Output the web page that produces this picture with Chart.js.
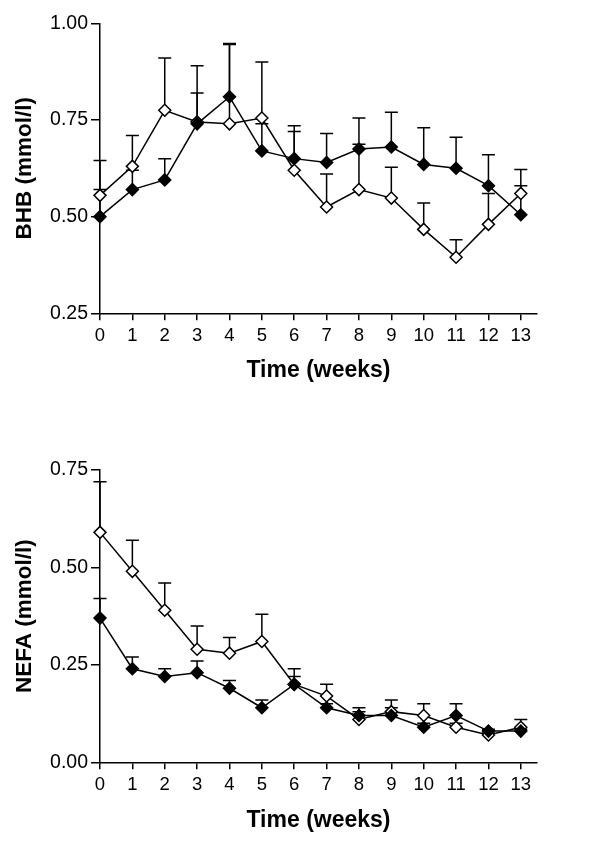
<!DOCTYPE html>
<html>
<head>
<meta charset="utf-8">
<script src="https://cdn.jsdelivr.net/npm/chart.js@4.4.1/dist/chart.umd.min.js"></script>
<style>
  html, body { margin: 0; padding: 0; background: #fff; }
  body { width: 600px; height: 842px; position: relative; overflow: hidden; }
  canvas { position: absolute; left: 0; }
  #c1 { top: 0; }
  #c2 { top: 420px; }
</style>
</head>
<body>
<canvas id="c1" width="600" height="400"></canvas>
<canvas id="c2" width="600" height="422"></canvas>
<script>
// ---- data ----
const weeks = [0, 1, 2, 3, 4, 5, 6, 7, 8, 9, 10, 11, 12, 13];

const bhbTicks = [0.25, 0.50, 0.75, 1.00];
const bhbFilled    = [0.50, 0.57, 0.595, 0.74, 0.81, 0.67, 0.65, 0.64, 0.675, 0.68, 0.635, 0.625, 0.58, 0.505];
const bhbFilledTop = [0.645, 0.62, 0.65, 0.82, 0.945, 0.74, 0.735, 0.715, 0.755, 0.77, 0.73, 0.705, 0.66, 0.58];
const bhbOpen      = [0.555, 0.63, 0.775, 0.745, 0.74, 0.755, 0.62, 0.525, 0.57, 0.548, 0.467, 0.395, 0.48, 0.56];
const bhbOpenTop   = [0.57, 0.71, 0.91, 0.89, 0.948, 0.90, 0.72, 0.61, 0.687, 0.628, 0.535, 0.44, 0.56, 0.622];

const nefaTicks = [0.00, 0.25, 0.50, 0.75];
const nefaFilled    = [0.37, 0.24, 0.22, 0.23, 0.19, 0.14, 0.20, 0.14, 0.12, 0.12, 0.09, 0.12, 0.08, 0.08];
const nefaFilledTop = [0.42, 0.27, 0.24, 0.26, 0.21, 0.16, 0.24, 0.15, 0.14, 0.14, 0.10, 0.15, 0.085, 0.085];
const nefaOpen      = [0.59, 0.49, 0.39, 0.29, 0.28, 0.31, 0.20, 0.17, 0.11, 0.13, 0.12, 0.09, 0.07, 0.09];
const nefaOpenTop   = [0.72, 0.57, 0.46, 0.35, 0.32, 0.38, 0.22, 0.20, 0.13, 0.16, 0.15, 0.10, 0.075, 0.11];

const FONT = "'Liberation Sans', Arial, Helvetica, sans-serif";

// Upper error bars drawn through the chart scales
const errorBarPlugin = {
  id: 'errorBars',
  beforeDatasetsDraw(chart) {
    const ctx = chart.ctx;
    const xs = chart.scales.x, ys = chart.scales.y;
    ctx.save();
    ctx.strokeStyle = '#000';
    ctx.lineWidth = 1.5;
    chart.data.datasets.forEach(ds => {
      const tops = ds.errTop;
      if (!tops) return;
      ds.data.forEach((p, i) => {
        const x = xs.getPixelForValue(p.x);
        const y0 = ys.getPixelForValue(p.y);
        const y1 = ys.getPixelForValue(tops[i]);
        ctx.beginPath();
        ctx.moveTo(x, y0);
        ctx.lineTo(x, y1);
        ctx.moveTo(x - 6.5, y1);
        ctx.lineTo(x + 6.5, y1);
        ctx.stroke();
      });
    });
    ctx.restore();
  }
};

function pts(vals) { return weeks.map((w, i) => ({ x: w, y: vals[i] })); }

function makeChart(id, cfg) {
  const H = cfg.height;
  new Chart(document.getElementById(id), {
    type: 'line',
    data: {
      datasets: [
        {
          data: pts(cfg.filled), errTop: cfg.filledTop,
          borderColor: '#000', borderWidth: 1.5, tension: 0,
          pointStyle: 'rectRot', pointRadius: 6,
          pointBackgroundColor: '#000', pointBorderColor: '#000', pointBorderWidth: 1.5,
          clip: false
        },
        {
          data: pts(cfg.open), errTop: cfg.openTop,
          borderColor: '#000', borderWidth: 1.5, tension: 0,
          pointStyle: 'rectRot', pointRadius: 6,
          pointBackgroundColor: '#fff', pointBorderColor: '#000', pointBorderWidth: 1.5,
          clip: false
        }
      ]
    },
    options: {
      responsive: false,
      animation: false,
      devicePixelRatio: 1,
      layout: { padding: { left: 0, right: 63, top: cfg.top, bottom: 0 } },
      plugins: { legend: { display: false }, tooltip: { enabled: false } },
      scales: {
        x: {
          type: 'linear', min: 0, max: 13.5,
          afterFit: s => { s.height = H - cfg.axisY; },
          afterBuildTicks: s => { s.ticks = weeks.map(v => ({ value: v })); },
          border: { display: true, color: '#000', width: 1.5 },
          grid: { display: true, drawOnChartArea: false, drawTicks: true, tickLength: 7, color: '#000', lineWidth: 1.5 },
          ticks: { color: '#000', padding: 5, maxRotation: 0, autoSkip: false,
                   font: { family: FONT, size: 18.5 }, callback: v => String(v) },
          title: { display: true, text: 'Time (weeks)', color: '#000',
                   font: { family: FONT, size: 23, weight: 'bold' },
                   padding: { top: 0, bottom: cfg.titlePadBottom } }
        },
        y: {
          type: 'linear', min: cfg.ticks[0], max: cfg.ticks[cfg.ticks.length - 1],
          afterFit: s => { s.width = 100; },
          afterBuildTicks: s => { s.ticks = cfg.ticks.map(v => ({ value: v })); },
          border: { display: true, color: '#000', width: 1.5 },
          grid: { display: true, drawOnChartArea: false, drawTicks: true, tickLength: 9, color: '#000', lineWidth: 1.5 },
          ticks: { color: '#000', padding: 3, font: { family: FONT, size: 19.5 },
                   callback: v => Number(v).toFixed(2) },
          title: { display: true, text: cfg.ytitle, color: '#000',
                   font: { family: FONT, size: 22.5, weight: 'bold' },
                   padding: { top: 11, bottom: 0 } }
        }
      }
    },
    plugins: [errorBarPlugin]
  });
}

makeChart('c1', {
  height: 400, top: 23.3, axisY: 313.3, titlePadBottom: 15.7,
  ticks: bhbTicks, ytitle: 'BHB (mmol/l)',
  filled: bhbFilled, filledTop: bhbFilledTop, open: bhbOpen, openTop: bhbOpenTop
});

makeChart('c2', {
  height: 422, top: 50, axisY: 342.3, titlePadBottom: 7.2,
  ticks: nefaTicks, ytitle: 'NEFA (mmol/l)',
  filled: nefaFilled, filledTop: nefaFilledTop, open: nefaOpen, openTop: nefaOpenTop
});
</script>
</body>
</html>
